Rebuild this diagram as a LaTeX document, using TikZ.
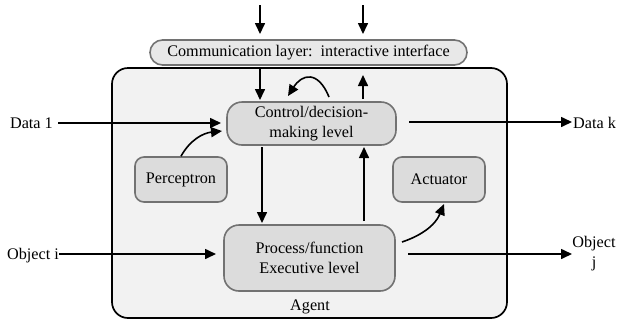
\documentclass[tikz,border=0pt]{standalone}
\usepackage{fontspec}
\setmainfont{Liberation Serif}
\usetikzlibrary{arrows.meta}
\definecolor{agentfill}{HTML}{F2F2F2}
\definecolor{boxfill}{HTML}{DCDCDC}
\definecolor{commfill}{HTML}{E8E8E8}
\definecolor{boxline}{HTML}{727272}
\tikzset{
  txt/.style={font=\fontsize{16.2}{20}\selectfont, inner sep=0pt, align=center},
  unit/.style={txt, draw=boxline, line width=1.6pt, fill=boxfill},
  arr/.style={line width=1.6pt, -{Triangle[length=11pt,width=10pt]}},
}
\begin{document}
\begin{tikzpicture}[x=1pt,y=-1pt]
\useasboundingbox (0,0) rectangle (617,322);

% agent frame
\node[draw=black, line width=1.7pt, fill=agentfill, rounded corners=16pt,
      minimum width=395pt, minimum height=250pt, inner sep=0pt] (agent) at (309.5,193) {};
\node[txt, anchor=base] (agentlbl) at (310,310) {Agent};

% communication layer
\node[txt, draw=boxline, line width=1.6pt, fill=commfill, rounded corners=12.5pt,
      minimum width=317pt, minimum height=25pt] (comm) at (308.5,52.5)
      {Communication layer:\ \ interactive interface};

% inner units
\node[unit, rounded corners=15pt, minimum width=169pt, minimum height=43pt] (ctrl) at (311.5,123.5)
      {Control/decision-\\making level};
\node[unit, rounded corners=9pt, minimum width=92pt, minimum height=45pt] (perc) at (181,179.5) {Perceptron};
\node[unit, rounded corners=9pt, minimum width=92pt, minimum height=45pt] (act) at (439,179.5) {Actuator};
\node[unit, rounded corners=15pt, minimum width=171pt, minimum height=66pt] (proc) at (309.5,258)
      {Process/function\\Executive level};

% outer labels
\node[txt, anchor=base east] (data1) at (53,128) {Data 1};
\node[txt, anchor=base west] (datak) at (573,128) {Data k};
\node[txt, anchor=base east] (obji) at (59,259) {Object i};
\node[txt, anchor=north] (objj) at (594,236) {Object\\j};

% connector end points
\coordinate (inA) at (260,5);   \coordinate (inAe) at (260,34);
\coordinate (inB) at (363,5);   \coordinate (inBe) at (363,34);
\coordinate (dn1) at (260,68);  \coordinate (dn1e) at (260,100);
\coordinate (up1) at (363,99);  \coordinate (up1e) at (363,75);
\coordinate (lpS) at (329,97);  \coordinate (lpE) at (288,96);
\coordinate (d1e) at (221,123);
\coordinate (pcE) at (222,131);
\coordinate (dkS) at (409,122); \coordinate (dkE) at (572,122);
\coordinate (dn2) at (262,147); \coordinate (dn2e) at (262,223);
\coordinate (up2) at (364,221); \coordinate (up2e) at (364,147);
\coordinate (oiS) at (59,254);  \coordinate (oiE) at (216,254);
\coordinate (ojS) at (408,254); \coordinate (ojE) at (572,254);
\coordinate (paS) at (402,242); \coordinate (paE) at (444,204);

% flows into and out of the communication layer
\draw[arr] (inA) -- (inAe);
\draw[arr] (inB) -- (inBe);
\draw[arr] (dn1) -- (dn1e);
\draw[arr] (up1) -- (up1e);
\draw[arr] (lpS) .. controls (318,70) and (302,74) .. (lpE);

% data flows
\draw[arr] (data1.east |- d1e) ++(5,0) -- (d1e);
\draw[arr] (perc.north) .. controls (190,140) and (203,133) .. (pcE);
\draw[arr] (dkS) -- (dkE);

% control <-> process
\draw[arr] (dn2) -- (dn2e);
\draw[arr] (up2) -- (up2e);

% object flows
\draw[arr] (oiS) -- (oiE);
\draw[arr] (ojS) -- (ojE);
\draw[arr] (paS) .. controls (420,236) and (435,226) .. (paE);
\end{tikzpicture}
\end{document}
